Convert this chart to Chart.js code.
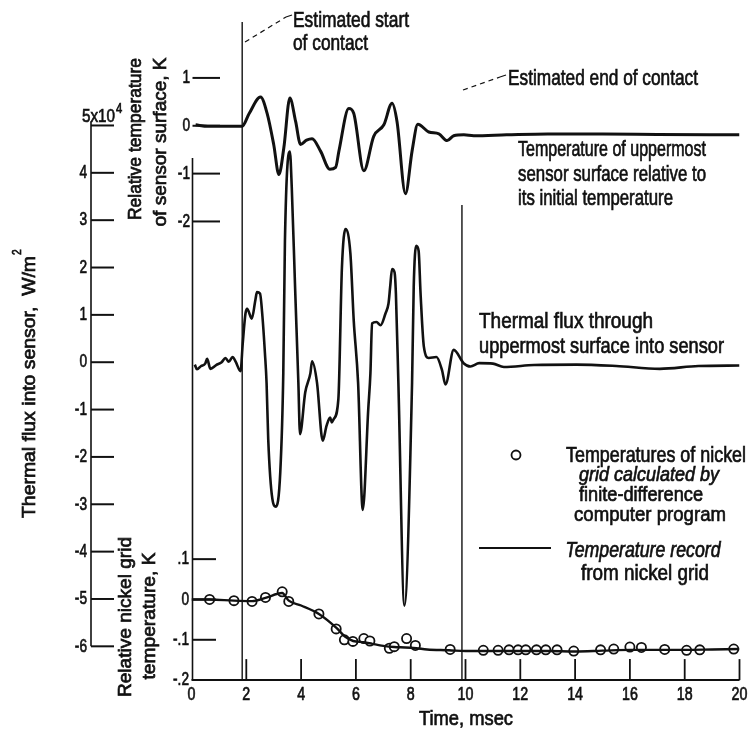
<!DOCTYPE html>
<html>
<head>
<meta charset="utf-8">
<script src="https://cdn.jsdelivr.net/npm/chart.js@4.4.1/dist/chart.umd.min.js"></script>
<style>
  html, body { margin: 0; padding: 0; background: #fff; }
  canvas { display: block; }
</style>
</head>
<body>
<canvas id="chart" width="752" height="731"></canvas>
<script>
// time, msec -- temperature of uppermost sensor surface, K
const surfaceTime = [0.15, 0.6, 1.0, 1.5, 1.85, 2.1, 2.52, 2.76, 3.0, 3.19, 3.37, 3.59, 3.8, 3.98, 4.2, 4.4, 4.71, 5.05, 5.26, 5.38, 5.74, 5.92, 6.29, 6.65, 7.02, 7.32, 7.5, 7.81, 8.05, 8.26, 8.66, 9.03, 9.33, 9.57, 9.94, 10.3, 11.5, 13, 15, 17, 20];
const surfaceTemp = [0.02, -0.01, -0.01, -0.01, -0.01, 0.25, 0.6, 0.26, -0.39, -1.02, -0.46, 0.58, 0.09, -0.39, -0.3, -0.27, -0.53, -0.91, -0.87, -0.53, 0.36, 0.26, -0.94, -0.22, 0.02, 0.47, 0.09, -1.42, -0.53, 0.03, -0.13, -0.17, -0.31, -0.21, -0.19, -0.21, -0.19, -0.17, -0.17, -0.18, -0.19];

// thermal flux into sensor, x10^4 W/m2
const fluxTime = [0.12, 0.2, 0.35, 0.5, 0.57, 0.69, 0.9, 1.1, 1.24, 1.36, 1.5, 1.62, 1.79, 1.87, 1.97, 2.03, 2.2, 2.33, 2.39, 2.5, 2.59, 2.68, 2.74, 2.8, 2.95, 3.08, 3.24, 3.35, 3.41, 3.59, 3.66, 3.78, 3.9, 3.96, 4.15, 4.34, 4.4, 4.58, 4.79, 4.93, 5.06, 5.12, 5.19, 5.36, 5.49, 5.62, 5.8, 5.92, 6.08, 6.25, 6.45, 6.53, 6.59, 6.75, 6.9, 7.08, 7.19, 7.25, 7.32, 7.41, 7.46, 7.55, 7.77, 8.05, 8.11, 8.2, 8.29, 8.36, 8.48, 8.66, 8.94, 9.14, 9.27, 9.57, 9.93, 10.18, 10.5, 11.0, 11.4, 12.5, 14.05, 15.5, 17.09, 18.5, 20];
const fluxValue = [-0.05, -0.15, -0.08, -0.03, 0.07, -0.14, -0.06, 0.0, 0.09, 0.01, 0.11, 0.0, -0.19, 0.4, 1.03, 1.13, 0.92, 1.31, 1.48, 1.45, 0.96, 0.19, -0.44, -1.62, -2.88, -3.05, -2.32, -0.23, 2.56, 4.45, 3.68, 1.59, -0.43, -1.52, -0.64, -0.23, 0.02, -0.43, -1.66, -1.34, -1.17, -1.27, -1.2, -0.78, 2.0, 2.81, 2.29, 0.89, -0.43, -3.12, -1.0, -0.23, 0.82, 0.85, 0.78, 1.03, 1.24, 1.59, 1.97, 1.9, 1.45, -0.43, -5.14, -0.43, 1.59, 2.46, 2.35, 1.45, 0.33, 0.09, 0.11, -0.16, -0.47, 0.26, -0.02, -0.09, -0.02, -0.03, -0.1, -0.06, -0.05, -0.08, -0.14, -0.08, -0.07];

// relative nickel grid temperature, K -- record (line)
const gridRecordTime = [0, 0.66, 1.55, 2.21, 2.7, 3.31, 3.55, 4.0, 4.65, 5.28, 5.6, 5.9, 6.3, 6.6, 7.0, 7.4, 7.8, 8.2, 8.6, 9.4, 10, 11, 12, 13, 14, 15, 16, 17, 18, 19, 20];
const gridRecordTemp = [0.0, 0.0, -0.003, -0.004, 0.004, 0.016, -0.003, -0.015, -0.036, -0.07, -0.092, -0.103, -0.106, -0.11, -0.115, -0.118, -0.119, -0.121, -0.124, -0.126, -0.128, -0.128, -0.128, -0.128, -0.129, -0.127, -0.125, -0.125, -0.125, -0.124, -0.123];

// relative nickel grid temperature, K -- finite-difference program (circles)
const gridCalcTime = [0.66, 1.55, 2.21, 2.7, 3.31, 3.55, 4.65, 5.28, 5.58, 5.89, 6.29, 6.51, 7.22, 7.4, 7.85, 8.17, 9.44, 10.65, 11.19, 11.59, 11.92, 12.2, 12.59, 12.93, 13.34, 13.95, 14.93, 15.41, 16.0, 16.42, 17.27, 18.07, 18.55, 19.79];
const gridCalcTemp = [0.0, -0.003, -0.005, 0.005, 0.019, -0.005, -0.036, -0.073, -0.1, -0.104, -0.097, -0.103, -0.121, -0.117, -0.097, -0.114, -0.124, -0.126, -0.126, -0.125, -0.125, -0.125, -0.125, -0.125, -0.125, -0.128, -0.125, -0.123, -0.118, -0.119, -0.124, -0.126, -0.125, -0.123];

// estimated start and end of contact, msec
const contactTimes = [1.85, 9.87];

const timeTicks = [0, 2, 4, 6, 8, 10, 12, 14, 16, 18, 20];
const timeTickLabels = ['0', '2', '4', '6', '8', '10', '12', '14', '16', '18', '20'];
const fluxTicks = [5, 4, 3, 2, 1, 0, -1, -2, -3, -4, -5, -6];
const fluxTickLabels = ['5x10', '4', '3', '2', '1', '0', '-1', '-2', '-3', '-4', '-5', '-6'];
const surfaceTicks = [1, 0, -1, -2];
const surfaceTickLabels = ['1', '0', '-1', '-2'];
const gridTicks = [0.1, 0, -0.1, -0.2];
const gridTickLabels = ['.1', '0', '-.1', '-.2'];

const INK = '#111';
const FONT = '"Liberation Sans", Arial, sans-serif';
const AREA_BOTTOM = 680;

function pts(xs, ys) {
  return xs.map((x, i) => ({ x, y: ys[i] }));
}

// min/max so a scale's zero sits at zeroPx with pxPerUnit spacing inside the 0..680 area
function span(zeroPx, pxPerUnit) {
  return { min: (zeroPx - AREA_BOTTOM) / pxPerUnit, max: zeroPx / pxPerUnit };
}

// condensed, slightly heavy lettering like the original typesetting
function text(ctx, s, x, y, o = {}) {
  ctx.save();
  ctx.font = `${o.italic ? 'italic ' : ''}${o.size || 22}px ${FONT}`;
  ctx.textAlign = o.align || 'left';
  ctx.textBaseline = o.base || 'alphabetic';
  const sx = o.w ? o.w / ctx.measureText(s).width : (o.sx || 0.72);
  ctx.translate(x, y);
  if (o.rot) ctx.rotate(-Math.PI / 2);
  ctx.scale(sx, 1);
  ctx.fillText(s, 0, 0);
  ctx.lineWidth = 0.7;
  ctx.strokeText(s, 0, 0);
  ctx.restore();
}

function seg(ctx, x1, y1, x2, y2, w, dash) {
  ctx.save();
  ctx.lineWidth = w;
  ctx.setLineDash(dash || []);
  ctx.beginPath();
  ctx.moveTo(x1, y1);
  ctx.lineTo(x2, y2);
  ctx.stroke();
  ctx.restore();
}

const notes = [
  { s: 'Estimated start', x: 293, y: 27, w: 116 },
  { s: 'of contact', x: 293, y: 50, w: 75 },
  { s: 'Estimated end of contact', x: 508, y: 85, w: 190 },
  { s: 'Temperature of uppermost', x: 518, y: 156, w: 188 },
  { s: 'sensor surface relative to', x: 518, y: 181, w: 188 },
  { s: 'its initial temperature', x: 518, y: 205, w: 155 },
  { s: 'Thermal flux through', x: 479, y: 328, w: 174 },
  { s: 'uppermost surface into sensor', x: 479, y: 353, w: 245 },
  { s: 'Temperatures of nickel', x: 656, y: 462, w: 180, align: 'center' },
  { s: 'grid calculated by', x: 649, y: 481, w: 140, align: 'center', italic: true, size: 21 },
  { s: 'finite-difference', x: 641, y: 501, w: 124, align: 'center', size: 21 },
  { s: 'computer program', x: 650, y: 521, w: 152, align: 'center', size: 21 },
  { s: 'Temperature record', x: 643, y: 557, w: 155, align: 'center', italic: true },
  { s: 'from nickel grid', x: 645, y: 580, w: 128, align: 'center' },
];

const decor = {
  id: 'decor',
  afterDatasetsDraw(chart) {
    const { ctx, scales } = chart;
    const x = scales.x, yF = scales.yF, yT = scales.yT, yN = scales.yN;
    ctx.save();
    ctx.strokeStyle = INK;
    ctx.fillStyle = INK;

    const left = x.getPixelForValue(0);
    const base = yN.getPixelForValue(-0.2);

    // time axis with upward ticks
    seg(ctx, left, base, x.getPixelForValue(20), base, 2);
    timeTicks.forEach((t, i) => {
      const p = x.getPixelForValue(t);
      if (t > 0) seg(ctx, p, base, p, base - 21, 1.8);
      text(ctx, timeTickLabels[i], p, 695, { size: 19, align: 'center', base: 'middle', sx: 0.75 });
    });
    text(ctx, 'Time, msec', 466, 725, { size: 21, align: 'center', w: 94 });

    // contact markers
    seg(ctx, x.getPixelForValue(contactTimes[0]), 22, x.getPixelForValue(contactTimes[0]), base, 1.4);
    seg(ctx, x.getPixelForValue(contactTimes[1]), 205, x.getPixelForValue(contactTimes[1]), base, 1.4);
    seg(ctx, 245, 42, 286, 17, 1.2, [5, 4]);
    seg(ctx, 286, 17, 292, 15, 1.2);
    seg(ctx, 463, 90, 500, 77, 1.2, [5, 4]);
    seg(ctx, 500, 77, 506, 75, 1.2);

    // shared left line of the two temperature scales
    seg(ctx, left + 1, 158, left + 1, base, 1.6);

    // surface temperature scale
    surfaceTicks.forEach((v, i) => {
      const p = yT.getPixelForValue(v);
      seg(ctx, left + 1, p, 220, p, 2);
      text(ctx, surfaceTickLabels[i], 190, p, { size: 19, align: 'right', base: 'middle' });
    });
    text(ctx, 'Relative temperature', 141, 139, { size: 18, align: 'center', rot: true, w: 162 });
    text(ctx, 'of sensor surface, K', 166, 142, { size: 18, align: 'center', rot: true, w: 169 });

    // nickel grid scale
    gridTicks.forEach((v, i) => {
      const p = yN.getPixelForValue(v);
      if (v > -0.2) seg(ctx, left + 1, p, 216, p, 2);
      text(ctx, gridTickLabels[i], 189, p, { size: 19, align: 'right', base: 'middle' });
    });
    text(ctx, 'Relative nickel grid', 131, 617, { size: 18, align: 'center', rot: true, w: 160 });
    text(ctx, 'temperature, K', 155, 616, { size: 18, align: 'center', rot: true, w: 127 });

    // thermal flux scale
    seg(ctx, 91, yF.getPixelForValue(5) - 4, 91, yF.getPixelForValue(-6), 1.6);
    fluxTicks.forEach((v, i) => {
      const p = yF.getPixelForValue(v);
      seg(ctx, 91, p, 114, p, 2);
      if (v === 5) {
        text(ctx, fluxTickLabels[i], 115, p - 3, { size: 19, align: 'right', w: 33 });
        text(ctx, '4', 116, p - 12, { size: 14, sx: 0.8 });
      } else {
        text(ctx, fluxTickLabels[i], 87, p, { size: 19, align: 'right', base: 'middle' });
      }
    });
    text(ctx, 'Thermal flux into sensor,  W/m', 35, 518, { size: 18, rot: true, w: 262 });
    text(ctx, '2', 21, 255, { size: 12, rot: true, sx: 0.85 });

    // annotations and legend
    notes.forEach((n) => text(ctx, n.s, n.x, n.y, { size: n.size || 22, align: n.align, italic: n.italic, w: n.w }));
    ctx.beginPath();
    ctx.arc(516, 455, 4.5, 0, Math.PI * 2);
    ctx.fillStyle = '#fff';
    ctx.fill();
    ctx.lineWidth = 1.8;
    ctx.stroke();
    seg(ctx, 479, 548, 551, 548, 2);
    ctx.restore();
  },
};

const lineStyle = {
  showLine: true,
  borderColor: INK,
  pointRadius: 0,
  cubicInterpolationMode: 'monotone',
  fill: false,
};

new Chart(document.getElementById('chart'), {
  type: 'scatter',
  data: {
    datasets: [
      { ...lineStyle, label: 'Surface temperature', data: pts(surfaceTime, surfaceTemp), yAxisID: 'yT', borderWidth: 3 },
      { ...lineStyle, label: 'Thermal flux', data: pts(fluxTime, fluxValue), yAxisID: 'yF', borderWidth: 2.6 },
      { ...lineStyle, label: 'Temperature record from nickel grid', data: pts(gridRecordTime, gridRecordTemp), yAxisID: 'yN', borderWidth: 2.4 },
      {
        label: 'Temperatures of nickel grid calculated',
        data: pts(gridCalcTime, gridCalcTemp),
        yAxisID: 'yN',
        showLine: false,
        pointStyle: 'circle',
        pointRadius: 4.6,
        pointBorderWidth: 1.8,
        pointBackgroundColor: '#fff',
        pointBorderColor: INK,
      },
    ],
  },
  options: {
    responsive: false,
    animation: false,
    devicePixelRatio: 1,
    layout: { padding: { left: 191.5, right: 12.5, top: 0, bottom: 51 } },
    plugins: { legend: { display: false }, tooltip: { enabled: false } },
    scales: {
      x: { type: 'linear', min: 0, max: 20, display: false },
      yF: { type: 'linear', display: false, ...span(359.2, 47.8) },
      yT: { type: 'linear', display: false, ...span(120.5, 48.3) },
      yN: { type: 'linear', display: false, ...span(598.7, 407) },
    },
  },
  plugins: [decor],
});
</script>
</body>
</html>
